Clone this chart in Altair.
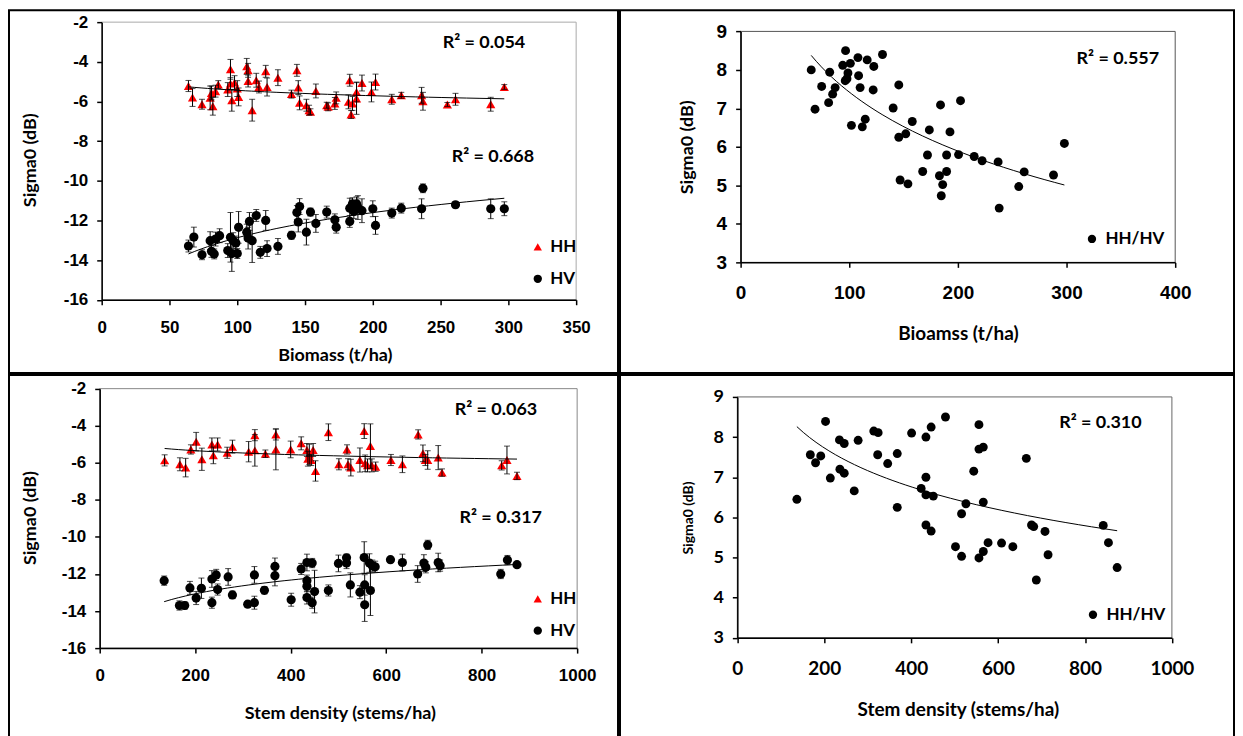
import altair as alt
import pandas as pd

# ---------------- data ----------------
# (a) Biomass vs HH
bio_hh_x = [64,67,74,80,81,82,84,86,93,95, 95,96,98,100,101,107,108,108,111,114,
            116,121,122,130,140,144,145,146,151,153, 154,158,166,167,172,173,182,183,184,185,
            188,188,192,199,202,214,221,236,237,255, 261,287,297]
bio_hh_y = [-5.22,-5.80,-6.14,-5.82,-5.57,-6.24,-5.48,-5.15,-5.40,-4.38,
            -5.10,-5.94,-5.05,-5.35,-5.77,-4.23,-4.43,-4.97,-6.44,-4.93,
            -5.27,-4.48,-5.27,-4.80,-5.63,-4.43,-5.30,-6.07,-6.19,-6.44,
            -6.52,-5.47,-6.19,-6.27,-6.10,-5.82,-6.02,-4.93,-6.66,-6.10,
            -5.52,-5.85,-5.07,-5.52,-5.02,-5.89,-5.69,-5.69,-5.99,-6.15,
            -5.89,-6.14,-5.27]
bio_hh_e = [0.28,0.45,0.25,0.6,0.35,0.45,0.3,0.2,0.35,0.5, 0.3,0.55,0.35,0.4,0.45,0.4,0.35,0.3,0.55,0.35,
            0.3,0.3,0.45,0.4,0.2,0.3,0.35,0.35,0.3,0.25, 0.15,0.35,0.15,0.2,0.3,0.3,0.35,0.3,0.2,0.35,
            0.5,0.8,0.4,0.5,0.4,0.25,0.15,0.4,0.45,0.1, 0.3,0.35,0.12]
# (a) Biomass vs HV
bio_hv_x = [64,68,74,80,81,83,84,87,93,95, 96,97,99,100,101,107,108,109,111,114,
            117,121,122,130,140,144,145,146,151,154, 158,166,172,173,183,183,185,186,188,189,
            192,200,202,214,221,237,236,261,287,297]
bio_hv_y = [-13.29,-12.84,-13.73,-13.02,-13.56,-13.69,-12.94,-12.77,-13.52,-12.85,
            -13.67,-13.02,-13.14,-13.67,-12.35,-12.59,-12.89,-12.05,-13.02,-11.75,
            -13.61,-12.0,-13.42,-13.31,-12.75,-11.60,-12.08,-11.30,-12.59,-11.58,
            -12.15,-11.58,-11.97,-12.34,-11.38,-12.05,-11.16,-11.55,-11.16,-11.35,
            -11.51,-11.41,-12.25,-11.63,-11.38,-10.38,-11.41,-11.21,-11.41,-11.41]
bio_hv_e = [0.3,0.5,0.25,0.45,0.3,0.25,0.35,0.35,0.35,1.25, 0.9,0.4,0.35,0.25,0.8,0.4,0.55,0.45,1.1,0.3,
            0.3,0.5,0.4,0.4,0.2,0.35,0.5,0.4,0.65,0.2, 0.45,0.3,0.3,0.3,0.5,0.3,0.3,0.35,0.35,0.6,
            0.6,0.4,0.45,0.25,0.25,0.22,0.5,0.15,0.5,0.35]
# (b) Biomass vs HH/HV
bio_r_x = [65,68.5,74.6,81,82,84.7,87,94,96.6,96.3, 97.9,98.8,101,102,108,108.6,110,112,114.7,116.5,
           122.6,122,130.6,140.4,145.6,145.6,146.8,152,154,158, 167.6,172,173.7,183,184,184.7,186,189.6,189.6,192.7,
           200.6,202.4,215,222.3,237,261,288,298,256,238]
bio_r_y = [8.0,6.98,7.57,7.15,7.94,7.37,7.54,8.12,8.50,7.72, 7.77,7.92,8.17,6.56,8.32,7.85,7.54,6.52,6.72,8.26,
           8.09,7.48,8.40,7.01,7.61,6.25,5.14,6.34,5.04,6.66, 5.36,5.79,6.44,5.25,7.09,4.73,5.02,5.36,5.79,6.39,
           5.80,7.20,5.75,5.64,5.61,5.35,5.27,6.09,4.97,4.41]
# (c) Stem density vs HH
sd_hh_x = [136,168,180,191,202,214,235,238,247,267, 278,312,325,325,347,369,369,400,422,434,
           436,439,443,447,452,479,501,518,520,526, 545,554,556,561,567,570,578,610,634,667,
           677,682,687,709,717,842,853,874]
sd_hh_y = [-5.87,-6.08,-6.26,-5.28,-4.86,-5.81,-5.01,-5.60,-5.01,-5.46,
           -5.13,-5.40,-4.51,-5.33,-5.51,-4.47,-5.28,-5.28,-4.95,-5.31,
           -5.78,-5.55,-5.85,-5.31,-6.44,-4.35,-6.08,-5.28,-6.08,-6.26,
           -5.85,-4.29,-6.03,-6.14,-5.10,-6.14,-6.21,-5.85,-6.08,-4.47,
           -5.49,-5.85,-5.85,-5.72,-6.53,-6.14,-5.85,-6.71]
sd_hh_e = [0.3,0.35,0.5,0.25,0.5,0.6,0.35,0.45,0.35,0.3, 0.35,0.55,0.3,0.85,0.2,0.3,1.1,0.45,0.35,0.35,
           0.4,0.55,0.3,0.35,0.55,0.45,0.3,0.25,0.3,0.45, 0.65,0.4,0.45,0.35,1.2,0.35,0.25,0.3,0.45,0.25,
           0.45,0.3,0.5,0.65,0.2,0.25,0.75,0.2]
# (c) Stem density vs HV
sd_hv_x = [135,167,178,189,202,213,235,235,244,247, 269,278,310,324,324,345,367,367,401,422,
           434,434,434,434,445,445,450,479,500,517, 517,525,545,554,555,555,565,567,571,577,
           609,634,666,679,683,687,709,713,840,854, 874]
sd_hv_y = [-12.36,-13.70,-13.70,-12.75,-13.30,-12.77,-13.55,-12.27,-12.05,-12.84,
           -12.16,-13.13,-13.63,-13.55,-12.05,-12.88,-11.59,-12.09,-13.39,-11.73,
           -11.38,-12.36,-12.66,-13.27,-11.41,-13.55,-12.95,-12.89,-11.43,-11.41,
           -11.13,-12.59,-12.98,-11.11,-12.59,-13.66,-11.41,-12.89,-11.55,-11.61,
           -11.23,-11.38,-12.0,-11.41,-11.64,-10.43,-11.38,-11.55,-12.0,-11.25,
           -11.5]
sd_hv_e = [0.25,0.25,0.2,0.35,0.35,0.55,0.3,0.45,0.3,0.3, 0.45,0.2,0.15,0.35,0.45,0.2,0.45,0.55,0.35,0.3,
           0.45,0.3,0.3,0.35,0.25,0.3,1.15,0.3,0.45,0.3, 0.2,0.65,0.35,0.85,0.55,0.9,0.5,1.35,0.3,0.3,
           0.1,0.45,0.45,0.45,0.3,0.25,0.5,0.3,0.25,0.25, 0.12]
# (d) Stem density vs HH/HV
sd_r_x = [137,168,180,192,203,214,235,236,246,246, 269,278,314,324,323,346,368,368,401,423,
          434,434,434,434,446,446,451,479,502,516, 516,526,544,556,556,556,566,566,566,577,
          608,634,665,677,682,688,708,715,842,854, 874]
sd_r_y = [6.45,7.56,7.36,7.53,8.39,6.98,7.93,7.20,7.84,7.10, 6.66,7.92,8.15,8.11,7.56,7.34,7.59,6.25,8.10,6.72,
          8.0,7.0,6.56,5.81,8.25,5.66,6.53,8.50,5.27,6.09, 5.03,6.34,7.15,8.31,7.70,4.99,7.75,6.38,5.15,5.37,
          5.36,5.27,7.47,5.81,5.77,4.44,5.65,5.07,5.80,5.37, 4.75]

r2_values = ["0.054", "0.668", "0.557", "0.063", "0.317", "0.310"]
series_names = ["HH", "HV", "HH/HV"]


def frame_of(parts):
    rows = []
    for name, xs, ys, es in parts:
        for i in range(len(xs)):
            rows.append({"x": xs[i], "y": ys[i], "err": es[i] if es else 0.0, "series": name})
    return pd.DataFrame(rows)


def make_axis(vals, offset, title, tx, ty, font, fs, pad, tfs, angle=0):
    return alt.Axis(values=vals, offset=offset, title=title, titleX=tx, titleY=ty,
                    titleAlign="center", titleBaseline="middle", titleAngle=angle,
                    titleFont="Lato", titleFontSize=tfs, titleFontWeight="bold", titleColor="black",
                    labelFont=font, labelFontSize=fs, labelFontWeight=700, labelColor="black",
                    labelPadding=pad, labelExpr="'' + datum.value", labelOverlap=False,
                    labelFlush=False, grid=False, domainColor="black", domainWidth=1.5,
                    tickColor="black", tickWidth=1.5, tickSize=5, zindex=1)


def make_panel(parts, colors, shapes, xdom, ydom, xr, yr, w, h,
               xaxis, yaxis, r2_list, leg, frame_color, psize, errbars):
    df = frame_of(parts)
    names = [p[0] for p in parts]
    legend = alt.Legend(orient="none", legendX=leg[0], legendY=leg[1], title=None,
                        labelFont="Lato", labelFontSize=leg[2], labelFontWeight="bold",
                        labelColor="black", symbolSize=70, symbolStrokeWidth=0,
                        rowPadding=leg[3], labelOffset=leg[4], padding=0)
    xs = alt.Scale(domain=xdom, range=xr, nice=False, zero=False)
    ys = alt.Scale(domain=ydom, range=yr, nice=False, zero=False)
    base = alt.Chart(df)
    pts = base.mark_point(filled=True, opacity=1, size=psize, strokeWidth=0).encode(
        x=alt.X("x:Q", scale=xs, axis=xaxis),
        y=alt.Y("y:Q", scale=ys, axis=yaxis),
        color=alt.Color("series:N", scale=alt.Scale(domain=names, range=colors), legend=legend),
        shape=alt.Shape("series:N", scale=alt.Scale(domain=names, range=shapes), legend=legend),
    )
    layers = [pts]
    frame = alt.Chart(pd.DataFrame({"k": [0]})).mark_rect(
        fill="transparent", stroke=frame_color, strokeWidth=1).encode(
        x=alt.datum(xdom[0]), x2=alt.datum(xdom[1]), y=alt.datum(ydom[0]), y2=alt.datum(ydom[1]))
    layers.append(frame)
    if errbars:
        eb = base.transform_calculate(lo="datum.y - datum.err", hi="datum.y + datum.err")
        layers.append(eb.mark_rule(color="black", strokeWidth=1).encode(
            x="x:Q", y="lo:Q", y2="hi:Q"))
        layers.append(eb.mark_tick(orient="horizontal", color="black", size=6, thickness=1).encode(
            x="x:Q", y="lo:Q"))
        layers.append(eb.mark_tick(orient="horizontal", color="black", size=6, thickness=1).encode(
            x="x:Q", y="hi:Q"))
    fit = base.transform_regression("x", "y", method="log", groupby=["series"]).mark_line(
        color="black", strokeWidth=1).encode(x="x:Q", y="y:Q", detail="series:N")
    layers.append(fit)
    for val, px, py in r2_list:
        layers.append(alt.Chart(pd.DataFrame({"t": ["R\u00b2 = " + val]})).mark_text(
            font="Lato", fontSize=18, fontWeight="bold", color="black", align="center",
            baseline="middle").encode(x=alt.datum(px), y=alt.datum(py), text="t:N"))
    return alt.layer(*layers).properties(width=w, height=h)


TICK_FONT = "Arial, Liberation Sans, sans-serif"

# ---- panel 1: biomass vs HH / HV ----
p1 = make_panel(
    [("HH", bio_hh_x, bio_hh_y, bio_hh_e), ("HV", bio_hv_x, bio_hv_y, bio_hv_e)],
    ["#ff0000", "#000000"], ["triangle-up", "circle"],
    [0, 350], [-16, -2], [93, 569], [290.5, 12], 611, 364,
    make_axis(list(range(0, 351, 50)), -73.5, "Biomass (t/ha)", 327, 55.5,
              TICK_FONT, 17, 15, 18),
    make_axis(list(range(-16, -1, 2)), -93, "Sigma0 (dB)", -71, 150,
              TICK_FONT, 17, 9, 18, 270),
    [(r2_values[0], 282, -3.04), (r2_values[1], 288.6, -8.78)],
    (522, 229, 17, 14, 4), "#aaaaaa", 85, True)

# ---- panel 2: biomass vs HH/HV ----
p2 = make_panel(
    [("HH/HV", bio_r_x, bio_r_y, None)],
    ["#000000"], ["circle"],
    [0, 400], [3, 9], [121, 557], [253, 21.3], 616, 364,
    make_axis(list(range(0, 401, 100)), -111, "Bioamss (t/ha)", 339, 71,
              TICK_FONT, 19, 16, 19),
    make_axis(list(range(3, 10)), -121, "Sigma0 (dB)", -53, 137,
              TICK_FONT, 19, 9, 18, 270),
    [(r2_values[2], 347.2, 8.29)],
    (465, 221, 17, 0, 5), "#555555", 80, False)

# ---- panel 3: stem density vs HH / HV ----
p3 = make_panel(
    [("HH", sd_hh_x, sd_hh_y, sd_hh_e), ("HV", sd_hv_x, sd_hv_y, sd_hv_e)],
    ["#ff0000", "#000000"], ["triangle-up", "circle"],
    [0, 1000], [-16, -2], [91, 570], [274, 13.7], 611, 364,
    make_axis(list(range(0, 1001, 200)), -90, "Stem density (stems/ha)", 332, 66,
              TICK_FONT, 17, 14, 18),
    make_axis(list(range(-16, -1, 2)), -91, "Sigma0 (dB)", -69, 143,
              TICK_FONT, 17, 9, 18, 270),
    [(r2_values[3], 830, -3.15), (r2_values[4], 840, -8.99)],
    (522, 216, 17, 14, 4), "#888888", 85, True)

# ---- panel 4: stem density vs HH/HV ----
p4 = make_panel(
    [("HH/HV", sd_r_x, sd_r_y, None)],
    ["#000000"], ["circle"],
    [0, 1000], [3, 9], [117.7, 553.7], [263.7, 22], 616, 364,
    make_axis(list(range(0, 1001, 200)), -100.3, "Stem density (stems/ha)", 339, 72.3,
              "Lato", 19, 17, 19),
    make_axis(list(range(3, 10)), -117.7, "Sigma0 (dB)", -48.7, 143,
              "Lato", 18, 9, 14, 270),
    [(r2_values[5], 835.5, 8.34)],
    (466, 232, 17, 0, 5), "#666666", 80, False)

row1 = alt.hconcat(p1, p2, spacing=0).resolve_scale(color="independent", shape="independent")
row2 = alt.hconcat(p3, p4, spacing=0).resolve_scale(color="independent", shape="independent")
chart = alt.vconcat(row1, row2, spacing=0).resolve_scale(
    color="independent", shape="independent").properties(padding=0).configure_view(
    stroke="black", strokeWidth=2)

chart.save("out.html", embed_options={"renderer": "svg", "actions": False})
